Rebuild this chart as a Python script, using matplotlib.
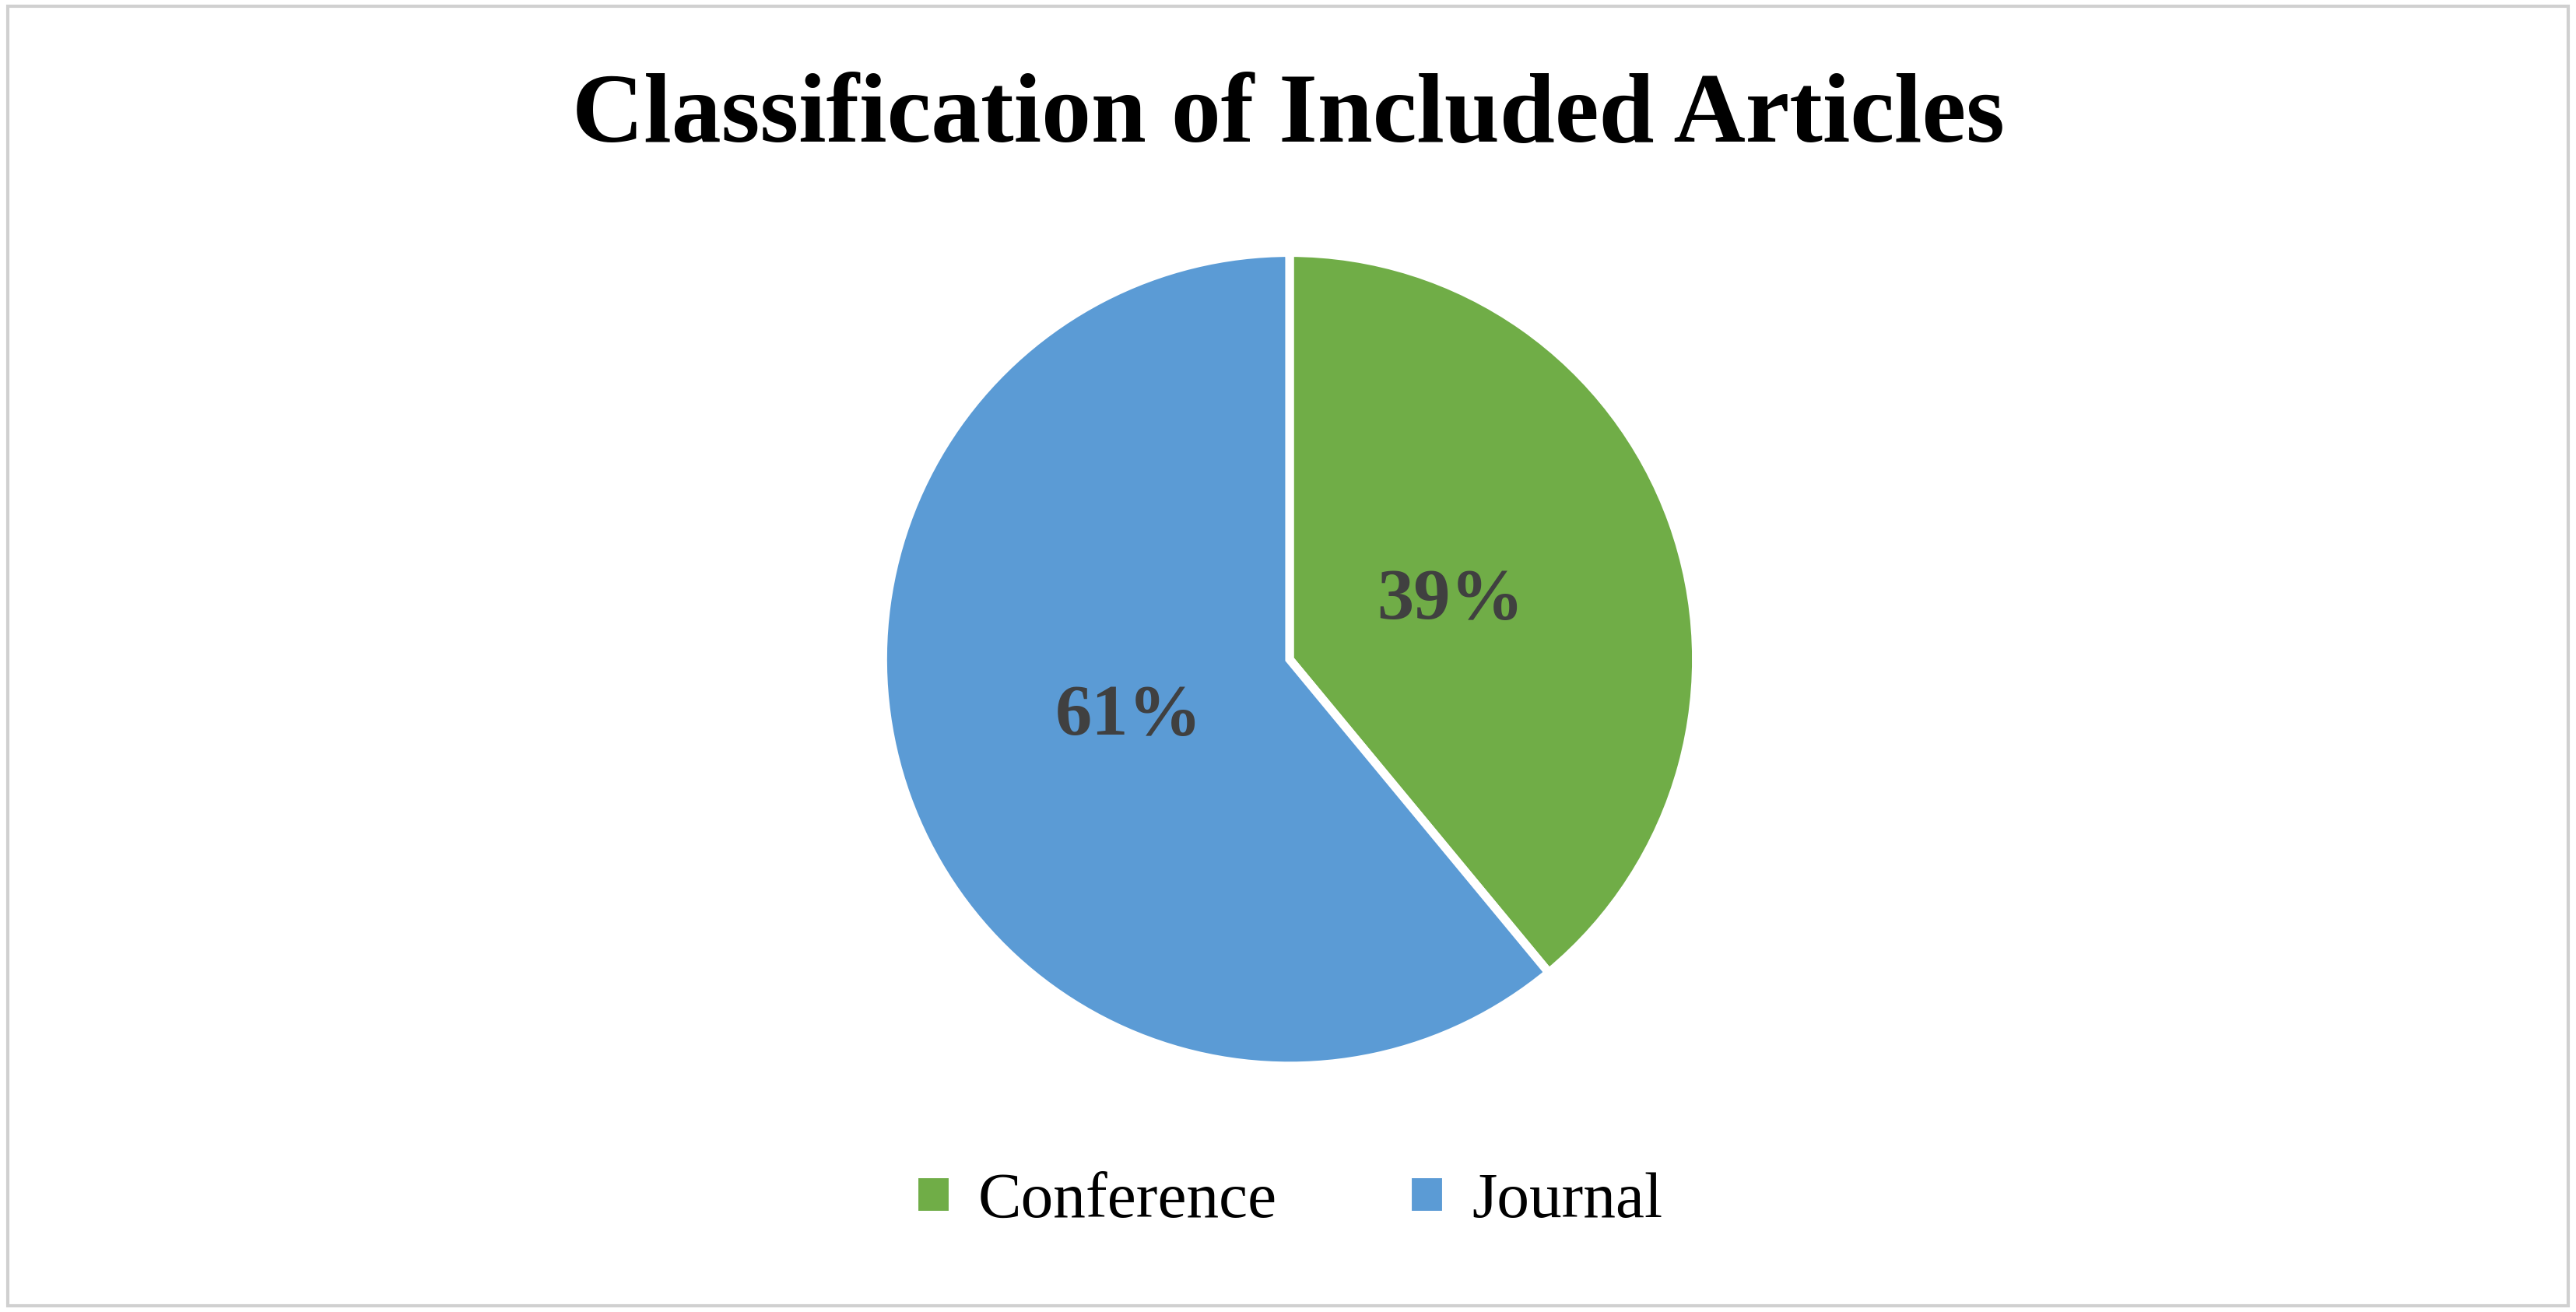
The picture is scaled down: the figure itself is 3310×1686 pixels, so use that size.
import matplotlib.pyplot as plt
from matplotlib.patches import Rectangle

plt.rcParams["font.family"] = ["Liberation Serif", "DejaVu Serif"]

# data
labels = ["Conference", "Journal"]
shares = [39, 61]
colors = ["#70AD47", "#5B9BD5"]

fig = plt.figure(figsize=(16.55, 8.43), dpi=200)
fig.patches.append(Rectangle((0.003, 0.005), 0.994, 0.99, transform=fig.transFigure,
                             fill=False, edgecolor="#D0D0D0", linewidth=1.5))

h = 0.62
w = h * 1686 / 3310
ax = fig.add_axes([0.5006 - w / 2, 0.4975 - h / 2, w, h])
wedges, texts, autotexts = ax.pie(
    shares, colors=colors, startangle=90, counterclock=False,
    autopct="%d%%", pctdistance=0.42,
    wedgeprops=dict(edgecolor="white", linewidth=4),
    textprops=dict(color="#404040", fontsize=34, fontweight="bold"),
)
ax.set_xlim(-1.0, 1.0)
ax.set_ylim(-1.0, 1.0)
ax.set_aspect("equal")

fig.text(0.5, 0.91, "Classification of Included Articles", ha="center", va="center",
         fontsize=46, fontweight="bold")

fig.legend(wedges, labels, loc="center", bbox_to_anchor=(0.5, 0.084), ncol=2,
           frameon=False, fontsize=30, handlelength=0.6, handleheight=0.6,
           handletextpad=0.4, columnspacing=2.0)

fig.savefig("out.png", dpi=200, facecolor="white")
